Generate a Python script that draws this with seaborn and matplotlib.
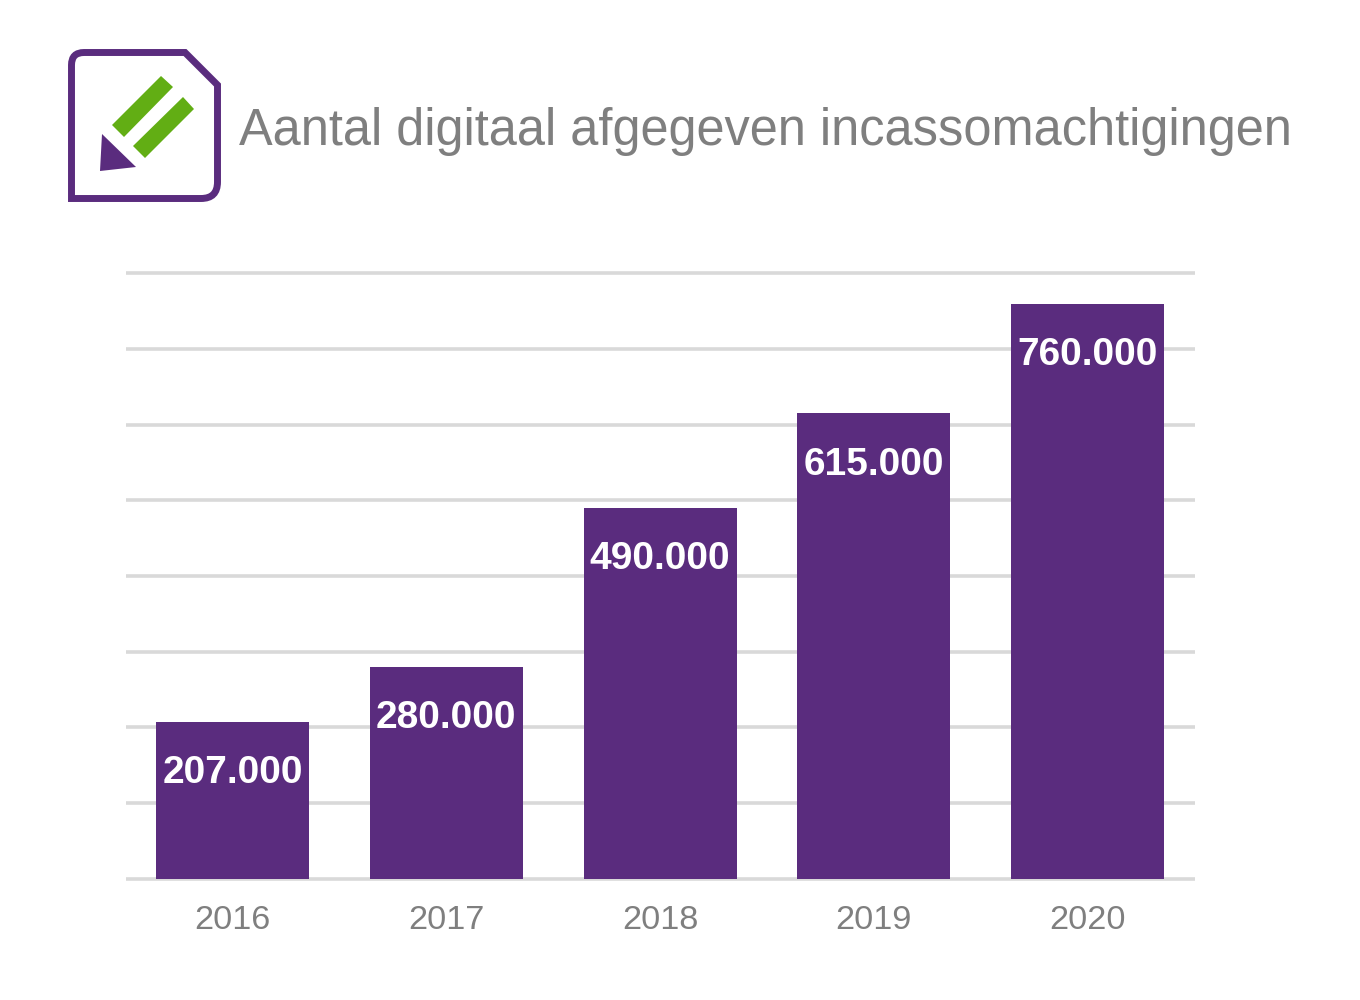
import matplotlib
matplotlib.use("Agg")
import matplotlib.pyplot as plt
from matplotlib.patches import Polygon, PathPatch
from matplotlib.path import Path
import pandas as pd
import seaborn as sns

# --- Data ---
years = ["2016", "2017", "2018", "2019", "2020"]
aantal = [207000, 280000, 490000, 615000, 760000]
labels = ["207.000", "280.000", "490.000", "615.000", "760.000"]
title = "Aantal digitaal afgegeven incassomachtigingen"

purple = "#5A2C7E"
green = "#62AE14"
grid_grey = "#D9D9D9"
text_grey = "#7F7F7F"

sns.set_theme(style="white")
plt.rcParams['font.family'] = ['Liberation Sans', 'DejaVu Sans']

W, H = 1360, 1000
fig = plt.figure(figsize=(13.6, 10), dpi=100, facecolor="white")
ax = fig.add_axes([126 / W, 1 - 878.5 / H, (1195 - 126) / W, (878.5 - 273.5) / H])

df = pd.DataFrame({"jaar": years, "aantal": aantal})
sns.barplot(data=df, x="jaar", y="aantal", color=purple, saturation=1, width=0.716,
            linewidth=0, ax=ax, zorder=3)

ax.set_xlim(-0.498, 4.502)
ax.set_ylim(0, 800000)
ax.set_yticks(range(0, 800001, 100000))
ax.yaxis.grid(True, color=grid_grey, linewidth=2.6)
for line in ax.yaxis.get_gridlines():
    line.set_clip_on(False)
    line.set_solid_capstyle("butt")
ax.set_axisbelow(True)
ax.set_xlabel("")
ax.set_ylabel("")
ax.tick_params(axis="y", left=False, labelleft=False)
ax.tick_params(axis="x", bottom=False, labelsize=24.7, labelcolor=text_grey, pad=13)
for spine in ax.spines.values():
    spine.set_visible(False)

for i, value in enumerate(aantal):
    ax.annotate(labels[i], (i, value), xytext=(0, -37), textcoords="offset points",
                ha="center", va="center", color="white", fontsize=28, fontweight="bold", zorder=4)

fig.text(239 / W, 1 - 131 / H, title, fontsize=36.37, color=text_grey, ha="left", va="center")

# --- Icon, in pixel coordinates ---
icon = fig.add_axes([0, 0, 1, 1], zorder=5)
icon.set_xlim(0, W)
icon.set_ylim(H, 0)
icon.axis("off")
icon.patch.set_alpha(0)

outline = [(84, 52.5), (185, 52.5), (217.5, 85), (217.5, 182), (217.5, 198.5), (201, 198.5),
           (71.5, 198.5), (71.5, 65), (71.5, 52.5), (84, 52.5), (84, 52.5)]
codes = [Path.MOVETO, Path.LINETO, Path.LINETO, Path.LINETO, Path.CURVE3, Path.CURVE3,
         Path.LINETO, Path.LINETO, Path.CURVE3, Path.CURVE3, Path.CLOSEPOLY]
icon.add_patch(PathPatch(Path(outline, codes), facecolor="white", edgecolor=purple, linewidth=5, joinstyle="miter"))
icon.add_patch(Polygon([(161, 76), (173, 87), (124, 137), (112, 125)], color=green, linewidth=0))
icon.add_patch(Polygon([(183, 97), (194, 109), (145, 158), (133, 146)], color=green, linewidth=0))
icon.add_patch(Polygon([(102, 134), (136, 167), (100, 171)], color=purple, linewidth=0))

fig.savefig("out.png", dpi=100, facecolor="white")
